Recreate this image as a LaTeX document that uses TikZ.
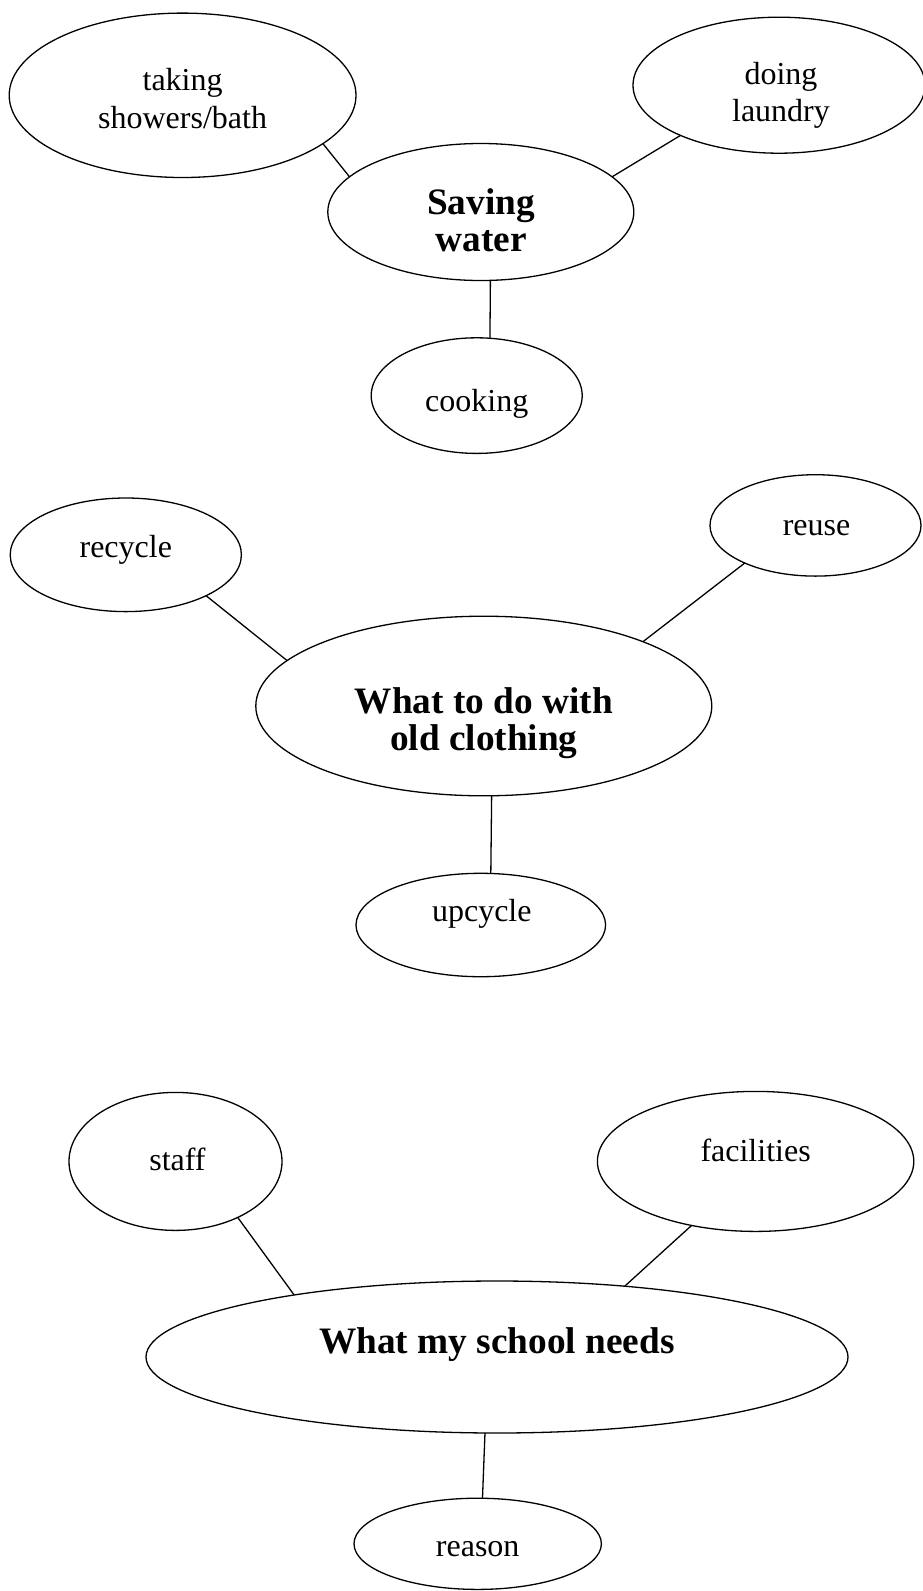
\documentclass[tikz,border=0pt]{standalone}
\usepackage{fontspec}
\setmainfont{Liberation Serif}
\usetikzlibrary{shapes.geometric}
\tikzset{
  bubble/.style={draw=black, line width=1.3pt, ellipse, inner sep=0pt, outer sep=0pt},
  lbl/.style={align=center, inner sep=0pt, font=\fontsize{32}{37.5}\selectfont},
  hub/.style={align=center, inner sep=0pt, font=\fontsize{37.3}{37}\selectfont\bfseries},
  link/.style={draw=black, line width=1.3pt}
}
\begin{document}
\begin{tikzpicture}[x=1pt,y=-1pt]
\useasboundingbox (0,0) rectangle (922,1591);
% --- Saving water
\node[bubble, minimum width=346.8pt, minimum height=164.4pt] (shw) at (182.6,95.3) {};
\node[bubble, minimum width=292pt, minimum height=136pt] (lau) at (779,85.2) {};
\node[bubble, minimum width=306pt, minimum height=137pt] (wat) at (480.8,212) {};
\node[bubble, minimum width=211pt, minimum height=115.6pt] (coo) at (476.7,395.6) {};
\node[lbl] (tshw) at (182.6,98.5) {taking\\showers/bath};
\node[lbl] (tlau) at (781,95.5) {doing\\laundry};
\node[hub] (twat) at (481,220) {Saving\\water};
\node[lbl] (tcoo) at (476.7,404) {cooking};
\draw[link] (shw.-19) -- (wat.165);
\draw[link] (wat.15) -- (lau.-153);
\draw[link] (wat.-82) -- (coo.77);
% --- Old clothing
\node[bubble, minimum width=231.2pt, minimum height=113.6pt] (rec) at (125.8,554.8) {};
\node[bubble, minimum width=211pt, minimum height=101.4pt] (reu) at (815.5,525.4) {};
\node[bubble, minimum width=456pt, minimum height=179.6pt] (clo) at (483.8,706) {};
\node[bubble, minimum width=249.6pt, minimum height=103.4pt] (upc) at (480.8,925) {};
\node[lbl] (trec) at (125.8,550) {recycle};
\node[lbl] (treu) at (816.5,528.5) {reuse};
\node[hub] (tclo) at (483.8,723.5) {What to do with\\old clothing};
\node[lbl] (tupc) at (481.8,913.5) {upcycle};
\draw[link] (rec.-27) -- (clo.167.5);
\draw[link] (clo.22) -- (reu.-152);
\draw[link] (clo.-85.4) -- (upc.79);
% --- School
\node[bubble, minimum width=213pt, minimum height=138pt] (sta) at (175.5,1161.4) {};
\node[bubble, minimum width=316.4pt, minimum height=140pt] (fac) at (755.6,1161.4) {};
\node[bubble, minimum width=702pt, minimum height=152pt] (sch) at (497,1357) {};
\node[bubble, minimum width=247.4pt, minimum height=91.2pt] (rea) at (477.7,1543.8) {};
\node[lbl] (tsta) at (177.5,1159.5) {staff};
\node[lbl] (tfac) at (755.6,1150) {facilities};
\node[hub] (tsch) at (497,1344.5) {What my school needs};
\node[lbl] (trea) at (477.7,1549) {reason};
\draw[link] (sta.-42) -- (sch.163);
\draw[link] (sch.29) -- (fac.-135);
\draw[link] (sch.-99) -- (rea.84);
\end{tikzpicture}
\end{document}
